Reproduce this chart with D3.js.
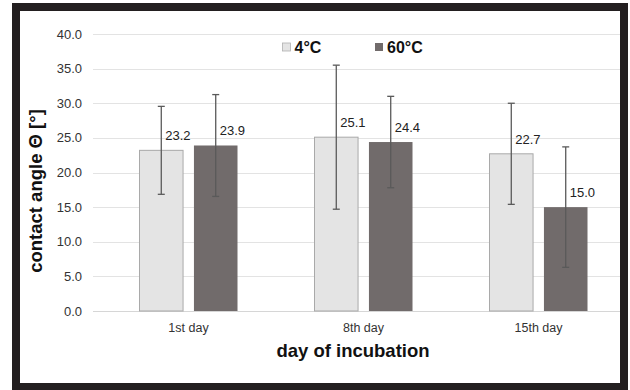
<!DOCTYPE html>
<html>
<head>
<meta charset="utf-8">
<script src="https://cdn.jsdelivr.net/npm/d3@7"></script>
<style>
  body { margin: 0; background: #fff; }
  svg { display: block; font-family: "Liberation Sans", Arial, sans-serif; }
</style>
</head>
<body>
<div id="chart"></div>
<script>
// data
var days = ["1st day", "8th day", "15th day"];
var series = ["4°C", "60°C"];
var means4 = [23.2, 25.1, 22.7];
var means60 = [23.9, 24.4, 15.0];
var sd4 = [6.35, 10.4, 7.3];
var sd60 = [7.35, 6.6, 8.7];
var yTicks = [0, 5, 10, 15, 20, 25, 30, 35, 40];

var colors = { "4°C": "#e4e4e4", "60°C": "#716b6b" };

var rows = [];
days.forEach(function(d, i) {
    rows.push({ day: d, s: "4°C", v: means4[i], sd: sd4[i] });
    rows.push({ day: d, s: "60°C", v: means60[i], sd: sd60[i] });
});

var svg = d3.select("#chart").append("svg")
    .attr("width", 630).attr("height", 390);

// dark frame
svg.append("rect").attr("x", 12).attr("y", 3).attr("width", 616).attr("height", 387)
    .attr("fill", "#231f20");
svg.append("rect").attr("x", 20).attr("y", 11).attr("width", 600).attr("height", 372)
    .attr("fill", "#fff");

var y = d3.scaleLinear().domain([0, 40]).range([311, 34]);
var x0 = d3.scaleBand().domain(days).range([101, 626]).paddingInner(0.44).paddingOuter(0.22);
var x1 = d3.scaleBand().domain(series).range([0, x0.bandwidth()]).paddingInner(0.2);

// clip so gridlines stop at the frame
svg.append("clipPath").attr("id", "clip")
    .append("rect").attr("x", 20).attr("y", 11).attr("width", 600).attr("height", 372);
var g = svg.append("g").attr("clip-path", "url(#clip)");

// gridlines
g.selectAll("line.grid").data(yTicks).enter().append("line")
    .attr("x1", 93).attr("x2", 630)
    .attr("y1", function(d) { return Math.round(y(d)) + 0.5; })
    .attr("y2", function(d) { return Math.round(y(d)) + 0.5; })
    .attr("stroke", function(d) { return d === 0 ? "#d6d6d6" : "#e3e3e3"; })
    .attr("stroke-width", 1);

// y tick labels
svg.selectAll("text.ytick").data(yTicks).enter().append("text")
    .attr("x", 82).attr("y", function(d) { return y(d) + 4.5; })
    .attr("text-anchor", "end")
    .style("font-size", "13px").style("fill", "#333")
    .text(function(d) { return d.toFixed(1); });

// bars
g.selectAll("rect.bar").data(rows).enter().append("rect")
    .attr("x", function(d) { return x0(d.day) + x1(d.s); })
    .attr("y", function(d) { return y(d.v); })
    .attr("width", x1.bandwidth())
    .attr("height", function(d) { return y(0) - y(d.v); })
    .attr("fill", function(d) { return colors[d.s]; })
    .attr("stroke", function(d) { return d.s === "4°C" ? "#a9a9a9" : "none"; })
    .attr("stroke-width", 1);

// error bars
var eb = g.selectAll("g.err").data(rows).enter().append("g")
    .attr("stroke", "#5a5a5a").attr("stroke-width", 1.3);
function cx(d) { return x0(d.day) + x1(d.s) + x1.bandwidth() / 2; }
eb.append("line")
    .attr("x1", cx).attr("x2", cx)
    .attr("y1", function(d) { return y(d.v + d.sd); })
    .attr("y2", function(d) { return y(d.v - d.sd); });
eb.append("line")
    .attr("x1", function(d) { return cx(d) - 3.5; }).attr("x2", function(d) { return cx(d) + 3.5; })
    .attr("y1", function(d) { return y(d.v + d.sd); })
    .attr("y2", function(d) { return y(d.v + d.sd); });
eb.append("line")
    .attr("x1", function(d) { return cx(d) - 3.5; }).attr("x2", function(d) { return cx(d) + 3.5; })
    .attr("y1", function(d) { return y(d.v - d.sd); })
    .attr("y2", function(d) { return y(d.v - d.sd); });

// value labels
svg.selectAll("text.val").data(rows).enter().append("text")
    .attr("x", function(d) { return cx(d) + 4; })
    .attr("y", function(d) { return y(d.v) - 10; })
    .style("font-size", "13px").style("fill", "#222")
    .text(function(d) { return d.v.toFixed(1); });

// category labels
svg.selectAll("text.cat").data(days).enter().append("text")
    .attr("x", function(d) { return x0(d) + x0.bandwidth() / 2; })
    .attr("y", 332)
    .attr("text-anchor", "middle")
    .style("font-size", "12.5px").style("fill", "#333")
    .text(function(d) { return d; });

// axis titles
svg.append("text")
    .attr("x", 353).attr("y", 357)
    .attr("text-anchor", "middle")
    .style("font-size", "18.5px").style("font-weight", "bold").style("fill", "#111")
    .text("day of incubation");
svg.append("text")
    .attr("transform", "translate(42,191) rotate(-90)")
    .attr("text-anchor", "middle")
    .style("font-size", "18.5px").style("font-weight", "bold").style("fill", "#111")
    .text("contact angle Θ [°]");

// legend
var legX = [282.5, 375];
var leg = svg.selectAll("g.leg").data(series).enter().append("g")
    .attr("transform", function(d, i) { return "translate(" + legX[i] + ",43)"; });
leg.append("rect").attr("width", 8).attr("height", 8)
    .attr("fill", function(d) { return colors[d]; })
    .attr("stroke", function(d) { return d === "4°C" ? "#b0b0b0" : "none"; })
    .attr("stroke-width", 0.8);
leg.append("text").attr("x", 12).attr("y", 9.5)
    .style("font-size", "16px").style("font-weight", "bold").style("fill", "#111")
    .text(function(d) { return d; });
</script>
</body>
</html>
